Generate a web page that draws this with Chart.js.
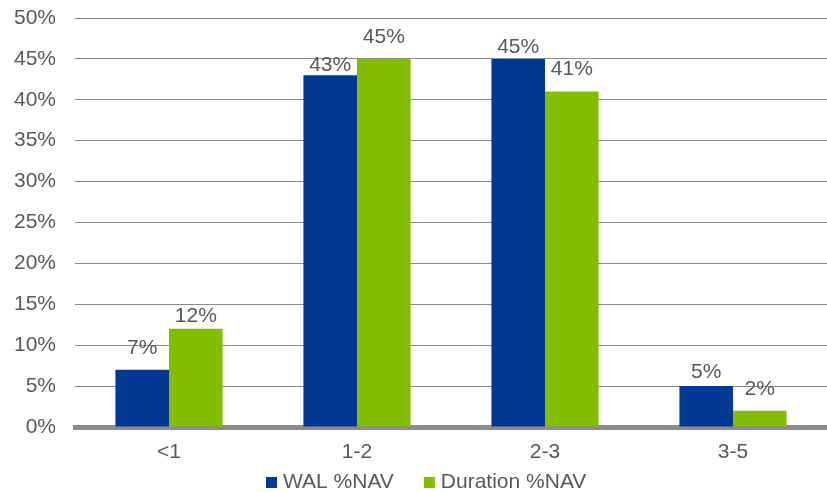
<!DOCTYPE html>
<html>
<head>
<meta charset="utf-8">
<script src="https://cdn.jsdelivr.net/npm/chart.js@4"></script>
<style>
  html, body { margin: 0; padding: 0; background: #fff; }
  #wrap { width: 827px; height: 492px; position: relative; }
</style>
</head>
<body>
<div id="wrap"><canvas id="c"></canvas></div>
<script>
const categories = ['<1', '1-2', '2-3', '3-5'];
const walValues = [7, 43, 45, 5];
const durationValues = [12, 45, 41, 2];
const seriesNames = ['WAL %NAV', 'Duration %NAV'];
const yTicks = [0, 5, 10, 15, 20, 25, 30, 35, 40, 45, 50];

const FONT = "'Liberation Sans', Arial, sans-serif";
const TEXT = '#595959';
const SIZE = 21;
const WAL_COLOR = '#003893';
const DUR_COLOR = '#84BD00';

// Writes each bar's percentage above its top edge; lift[dataset][index] is the
// gap in px between the bar top and the text baseline.
const valueLabels = {
  id: 'valueLabels',
  afterDatasetsDraw(chart, args, opts) {
    const ctx = chart.ctx;
    const lift = opts.lift || [];
    ctx.save();
    ctx.font = SIZE + 'px ' + FONT;
    ctx.fillStyle = TEXT;
    ctx.textAlign = 'center';
    ctx.textBaseline = 'alphabetic';
    chart.data.datasets.forEach((ds, i) => {
      chart.getDatasetMeta(i).data.forEach((bar, j) => {
        const gap = (lift[i] && lift[i][j] != null) ? lift[i][j] : 10;
        ctx.fillText(ds.data[j] + '%', bar.x, bar.y - gap);
      });
    });
    ctx.restore();
  }
};

// Compact legend row along the bottom edge: small square swatch, then the series name
const bottomLegend = {
  id: 'bottomLegend',
  afterDraw(chart, args, opts) {
    const ctx = chart.ctx;
    const box = opts.box, gap = opts.gap, spacing = opts.spacing;
    ctx.save();
    ctx.font = SIZE + 'px ' + FONT;
    ctx.textBaseline = 'alphabetic';
    ctx.textAlign = 'left';
    const items = chart.data.datasets.map(ds => ({
      text: ds.label, color: ds.backgroundColor, w: ctx.measureText(ds.label).width
    }));
    const total = items.reduce((s, it) => s + box + gap + it.w, 0) + spacing * (items.length - 1);
    let x = Math.round(chart.width / 2 + opts.shift - total / 2);
    const base = chart.height - opts.bottom;
    items.forEach(it => {
      ctx.fillStyle = it.color;
      ctx.fillRect(x, base - box, box, box);
      x += box + gap;
      ctx.fillStyle = TEXT;
      ctx.fillText(it.text, x, base);
      x += it.w + spacing;
    });
    ctx.restore();
  }
};

new Chart(document.getElementById('c'), {
  type: 'bar',
  data: {
    labels: categories,
    datasets: [
      { label: seriesNames[0], data: walValues, backgroundColor: WAL_COLOR, borderWidth: 0 },
      { label: seriesNames[1], data: durationValues, backgroundColor: DUR_COLOR, borderWidth: 0 }
    ]
  },
  options: {
    responsive: true,
    maintainAspectRatio: false,
    animation: false,
    layout: { padding: { top: 18, right: 0, left: 14, bottom: 24 } },
    datasets: { bar: { barPercentage: 1, categoryPercentage: 0.57 } },
    plugins: {
      legend: { display: false },
      tooltip: { enabled: false },
      valueLabels: {
        lift: [[16, 4, 6, 8], [7, 16, 17, 16]]
      },
      bottomLegend: { box: 11, gap: 6, spacing: 30, shift: 13, bottom: 4 }
    },
    scales: {
      x: {
        grid: { display: false, drawTicks: false },
        border: { display: true, color: '#8c8c8c', width: 5 },
        ticks: { color: TEXT, font: { family: FONT, size: SIZE }, padding: 13 },
        afterFit(scale) { scale.height = 41; }
      },
      y: {
        min: 0, max: 50,
        afterBuildTicks(scale) { scale.ticks = yTicks.map(v => ({ value: v })); },
        afterFit(scale) { scale.width = 61; scale.paddingTop = 0; scale.paddingBottom = 0; },
        grid: { color: '#8c8c8c', lineWidth: 1, drawTicks: false },
        border: { display: false },
        ticks: {
          color: TEXT, font: { family: FONT, size: SIZE }, padding: 19,
          callback: v => v + '%'
        }
      }
    }
  },
  plugins: [valueLabels, bottomLegend]
});
</script>
</body>
</html>
